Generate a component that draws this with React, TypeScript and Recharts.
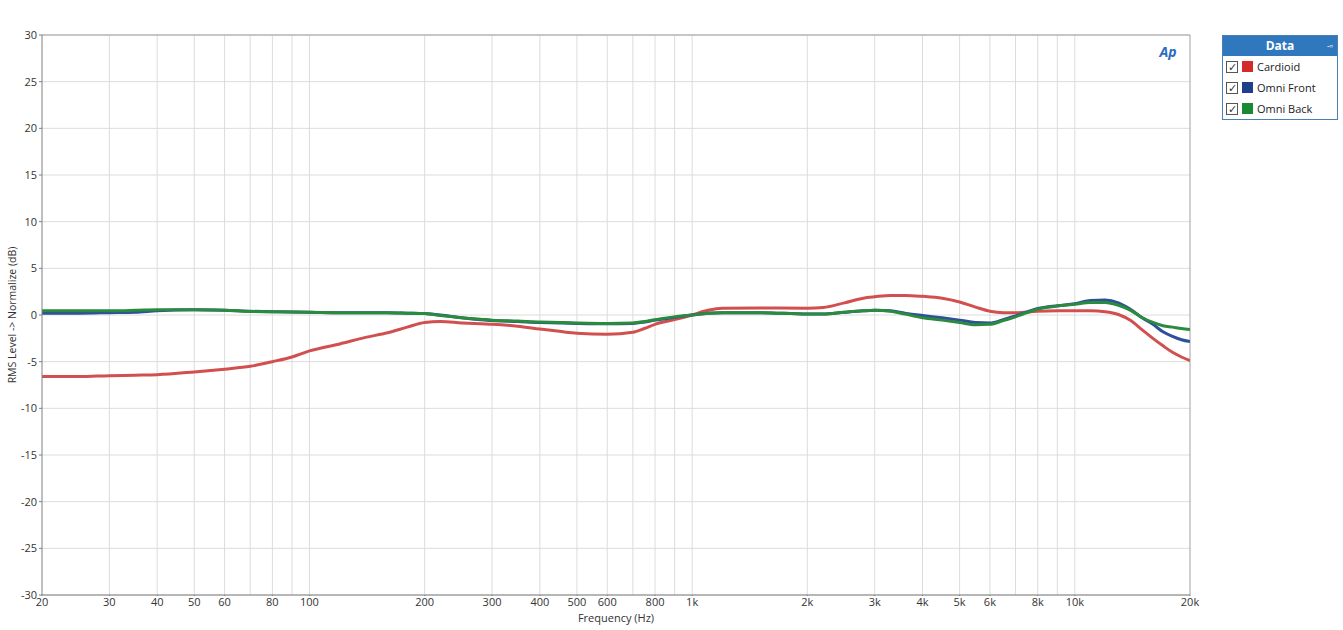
import React from 'react';
import { LineChart, Line, XAxis, YAxis, CartesianGrid, ReferenceLine } from 'recharts';

const freqs = [20, 25, 30, 35, 40, 50, 60, 70, 80, 90, 100, 120, 140, 160, 180, 200, 220, 250, 280, 300, 350, 400, 450, 500, 600, 700, 750, 800, 900, 1000, 1100, 1200, 1500, 2000, 2200, 2500, 2800, 3000, 3300, 3600, 4000, 4500, 5000, 5500, 6000, 6500, 7000, 8000, 9000, 10000, 11000, 12000, 13000, 14000, 15000, 16000, 17000, 18000, 19000, 20000];

const cardioid = [-6.6, -6.6, -6.5, -6.45, -6.4, -6.1, -5.8, -5.5, -5.0, -4.5, -3.85, -3.1, -2.4, -1.9, -1.3, -0.8, -0.7, -0.85, -0.95, -1.0, -1.2, -1.5, -1.75, -1.95, -2.05, -1.85, -1.45, -1.0, -0.5, 0.0, 0.5, 0.72, 0.75, 0.72, 0.8, 1.3, 1.8, 1.95, 2.1, 2.1, 2.0, 1.8, 1.4, 0.85, 0.4, 0.25, 0.25, 0.4, 0.45, 0.45, 0.45, 0.35, 0.05, -0.6, -1.6, -2.5, -3.3, -4.0, -4.5, -4.9];

const omniFront = [0.2, 0.2, 0.25, 0.3, 0.45, 0.55, 0.5, 0.4, 0.35, 0.32, 0.3, 0.25, 0.25, 0.25, 0.2, 0.15, 0.0, -0.3, -0.5, -0.6, -0.7, -0.8, -0.85, -0.9, -0.95, -0.9, -0.75, -0.55, -0.25, 0.0, 0.2, 0.25, 0.25, 0.1, 0.1, 0.3, 0.45, 0.5, 0.45, 0.2, -0.05, -0.3, -0.55, -0.8, -0.85, -0.5, -0.1, 0.7, 1.0, 1.2, 1.55, 1.6, 1.3, 0.6, -0.3, -1.0, -1.8, -2.3, -2.65, -2.85];

const omniBack = [0.45, 0.45, 0.45, 0.5, 0.57, 0.57, 0.5, 0.38, 0.35, 0.32, 0.3, 0.25, 0.25, 0.25, 0.2, 0.15, -0.05, -0.3, -0.45, -0.55, -0.65, -0.75, -0.8, -0.85, -0.9, -0.85, -0.7, -0.5, -0.2, 0.0, 0.2, 0.25, 0.25, 0.1, 0.1, 0.3, 0.45, 0.5, 0.4, 0.1, -0.3, -0.55, -0.8, -1.05, -1.0, -0.6, -0.2, 0.65, 0.95, 1.15, 1.35, 1.35, 1.05, 0.5, -0.3, -0.8, -1.15, -1.3, -1.45, -1.55];

const xTicks = [20, 30, 40, 50, 60, 80, 100, 200, 300, 400, 500, 600, 800, 1000, 2000, 3000, 4000, 5000, 6000, 8000, 10000, 20000];
const xGrid = [30, 40, 50, 60, 70, 80, 90, 100, 200, 300, 400, 500, 600, 700, 800, 900, 1000, 2000, 3000, 4000, 5000, 6000, 7000, 8000, 9000, 10000];
const yTicks = [-30, -25, -20, -15, -10, -5, 0, 5, 10, 15, 20, 25, 30];

const seriesNames = ['Cardioid', 'Omni Front', 'Omni Back'];
const lineColors = ['#d24f4f', '#2d4f9c', '#2a8a3e'];
const legendColors = ['#d42a2a', '#1d3f8c', '#1a8a30'];
const seriesKeys = ['cardioid', 'omniFront', 'omniBack'];

const data = freqs.map((f, i) => ({ f, cardioid: cardioid[i], omniFront: omniFront[i], omniBack: omniBack[i] }));

const fmtFreq = (v: number) => (v >= 1000 ? `${v / 1000}k` : `${v}`);

const font = '"Open Sans", "Noto Sans", sans-serif';

export default function App() {
  return (
    <div style={{ position: 'absolute', left: 0, top: 0, width: 1343, height: 630, background: '#fff', fontFamily: font }}>
      <LineChart width={1343} height={630} data={data} margin={{ top: 35, right: 153, bottom: 0, left: 0 }}>
        <CartesianGrid vertical={false} stroke="#dcdcdc" />
        {xGrid.map((g) => (
          <ReferenceLine key={g} x={g} stroke="#dcdcdc" strokeWidth={1} />
        ))}
        <ReferenceLine y={30} stroke="#a0a0a0" />
        <ReferenceLine x={20000} stroke="#a0a0a0" />
        <XAxis
          dataKey="f"
          type="number"
          scale="log"
          domain={[20, 20000]}
          ticks={xTicks}
          tickFormatter={fmtFreq}
          interval={0}
          height={35}
          allowDataOverflow
          stroke="#808080"
          tickSize={1}
          tick={{ fontSize: 11, fill: '#333', fontFamily: font }}
          label={{ value: 'Frequency (Hz)', position: 'insideBottom', offset: 8, fontSize: 11, fill: '#333', fontFamily: font }}
        />
        <YAxis
          type="number"
          domain={[-30, 30]}
          ticks={yTicks}
          interval={0}
          width={42}
          stroke="#808080"
          tickSize={3}
          tick={{ fontSize: 11, fill: '#333', fontFamily: font }}
        />
        {seriesKeys.map((k, i) => (
          <Line key={k} dataKey={k} name={seriesNames[i]} type="monotone" stroke={lineColors[i]} strokeWidth={3} dot={false} isAnimationActive={false} />
        ))}
        <text x={12} y={315} transform="rotate(-90 12 315)" textAnchor="middle" dominantBaseline="central" fontSize={10.5} fill="#333" fontFamily={font}>RMS Level -&gt; Normalize (dB)</text>
        <text x={1168} y={57} textAnchor="middle" fontSize={14} fontStyle="italic" fontWeight="bold" fill="#2a6cc0" fontFamily={font}>Ap</text>
      </LineChart>
      <div style={{ position: 'absolute', left: 1222, top: 35, width: 116, height: 85, border: '1px solid #4a80b8', boxSizing: 'border-box', background: '#fff', fontSize: 11, color: '#222' }}>
        <div style={{ height: 20, background: '#2f78bd', color: '#fff', fontWeight: 'bold', fontSize: 12, textAlign: 'center', lineHeight: '20px', position: 'relative' }}>
          Data
          <span style={{ position: 'absolute', right: 4, top: 0, fontSize: 9, fontWeight: 'normal' }}>-▫</span>
        </div>
        {seriesNames.map((n, i) => (
          <div key={n} style={{ height: 21, display: 'flex', alignItems: 'center', paddingLeft: 3 }}>
            <span style={{ width: 12, height: 12, border: '1px solid #555', boxSizing: 'border-box', display: 'inline-block', fontSize: 11, lineHeight: '10px', textAlign: 'center', color: '#333' }}>✓</span>
            <span style={{ width: 11, height: 11, background: legendColors[i], display: 'inline-block', marginLeft: 4 }} />
            <span style={{ marginLeft: 4 }}>{n}</span>
          </div>
        ))}
      </div>
    </div>
  );
}
